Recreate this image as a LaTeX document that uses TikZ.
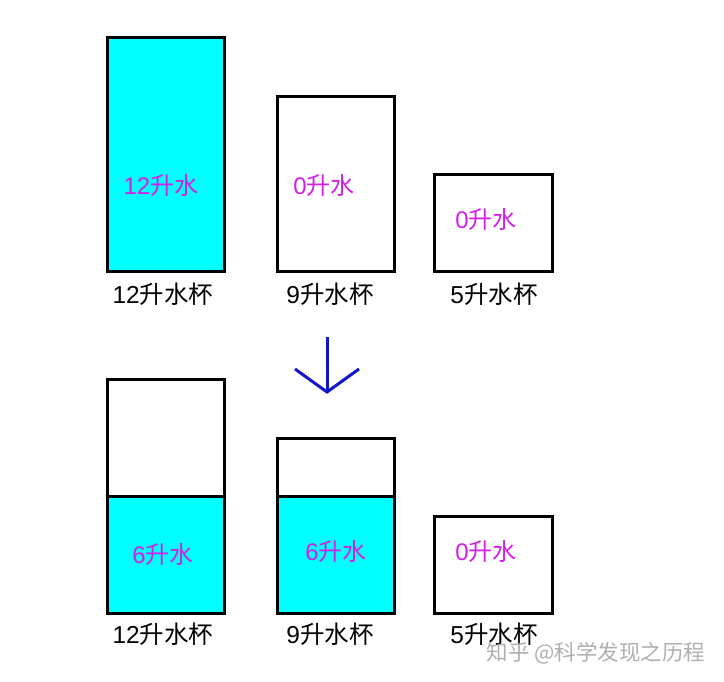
\documentclass[tikz,border=0pt]{standalone}
\usepackage{fontspec}
\setmainfont{Liberation Sans}
\newfontfamily\cjk{Noto Sans CJK SC}
\definecolor{watercyan}{RGB}{0,255,255}
\definecolor{labelmag}{RGB}{210,30,230}
\definecolor{arrowblue}{RGB}{20,20,200}
\definecolor{wmgray}{RGB}{175,175,175}
\begin{document}
\begin{tikzpicture}[x=1pt,y=-1pt,
  cup/.style={draw=black,line width=3pt},
  water/.style={fill=watercyan},
  amount/.style={text=labelmag,font=\fontsize{24}{28}\selectfont,inner sep=0pt},
  cupname/.style={text=black,font=\fontsize{24.5}{28}\selectfont,inner sep=0pt},
  arrowline/.style={draw=arrowblue,line width=3pt}]
\useasboundingbox (0,0) rectangle (724,682);
% top row
\fill[water] (107,38) rectangle (224,272);
\draw[cup] (107,38) rectangle (224,272);
\draw[cup] (277,97) rectangle (394,272);
\draw[cup] (434,175) rectangle (552,272);
\node[amount] (a1) at (161,185) {12{\cjk 升水}};
\node[amount] (a2) at (324,185) {0{\cjk 升水}};
\node[amount] (a3) at (486,219) {0{\cjk 升水}};
\node[cupname] (n1) at (163,294) {12{\cjk 升水杯}};
\node[cupname] (n2) at (330,294) {9{\cjk 升水杯}};
\node[cupname] (n3) at (494,294) {5{\cjk 升水杯}};
% arrow
\coordinate (atop) at (327,337);
\coordinate (atip) at (327,392);
\coordinate (aleft) at (295,369);
\coordinate (aright) at (359,369);
\draw[arrowline] (atop) -- (atip);
\draw[arrowline,line join=miter] (aleft) -- (atip) -- (aright);
% bottom row
\fill[water] (107,496) rectangle (224,613);
\fill[water] (277,496) rectangle (394,613);
\draw[cup] (107,379) rectangle (224,613);
\draw[cup] (107,496) -- (224,496);
\draw[cup] (277,438) rectangle (394,613);
\draw[cup] (277,496) -- (394,496);
\draw[cup] (434,516) rectangle (552,613);
\node[amount] (b1) at (163,554) {6{\cjk 升水}};
\node[amount] (b2) at (336,551) {6{\cjk 升水}};
\node[amount] (b3) at (486,551) {0{\cjk 升水}};
\node[cupname] (m1) at (163,634) {12{\cjk 升水杯}};
\node[cupname] (m2) at (330,634) {9{\cjk 升水杯}};
\node[cupname] (m3) at (494,634) {5{\cjk 升水杯}};
% watermark
\node[text=wmgray,font=\cjk\fontsize{21.5}{24}\selectfont,inner sep=0pt] (wm) at (596,653) {知乎 @科学发现之历程};
\end{tikzpicture}
\end{document}
